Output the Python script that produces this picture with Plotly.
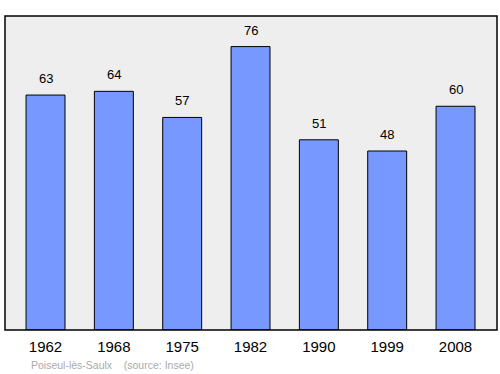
import plotly.graph_objects as go

years = ["1962", "1968", "1975", "1982", "1990", "1999", "2008"]
population = [63, 64, 57, 76, 51, 48, 60]

fig = go.Figure()
fig.add_trace(go.Bar(
    x=list(range(len(years))), y=population, width=0.57,
    marker=dict(color="#7799ff", line=dict(color="black", width=1)),
    hoverinfo="skip"))

for i, v in enumerate(population):
    fig.add_annotation(x=i, y=v, text=str(v), showarrow=False, yanchor="bottom",
                       yshift=7, font=dict(family="Liberation Sans, Arial", size=13, color="black"))

fig.add_shape(type="rect", xref="paper", yref="paper", x0=0, x1=1, y0=0, y1=1,
              line=dict(color="black", width=1.5), layer="above")

fig.add_annotation(xref="paper", yref="paper", x=(29-5)/492, y=-(365-330)/314, xanchor="left",
                   yanchor="middle", text="Poiseul-lès-Saulx    (source: Insee)", showarrow=False,
                   font=dict(family="Liberation Sans, Arial", size=10.5, color="#aaaaaa"))

fig.update_layout(
    width=500, height=374, margin=dict(l=5, r=3, t=16, b=44),
    paper_bgcolor="white", plot_bgcolor="#eeeeee", showlegend=False,
    xaxis=dict(range=[-0.593, 6.607], tickmode="array", tickvals=list(range(len(years))),
               ticktext=years, showgrid=False, zeroline=False, ticks="", ticklabelstandoff=6,
               tickfont=dict(family="Liberation Sans, Arial", size=15, color="black")),
    yaxis=dict(range=[0, 84.2], showgrid=False, zeroline=False, showticklabels=False, ticks=""),
)
fig.write_html("out.html")
